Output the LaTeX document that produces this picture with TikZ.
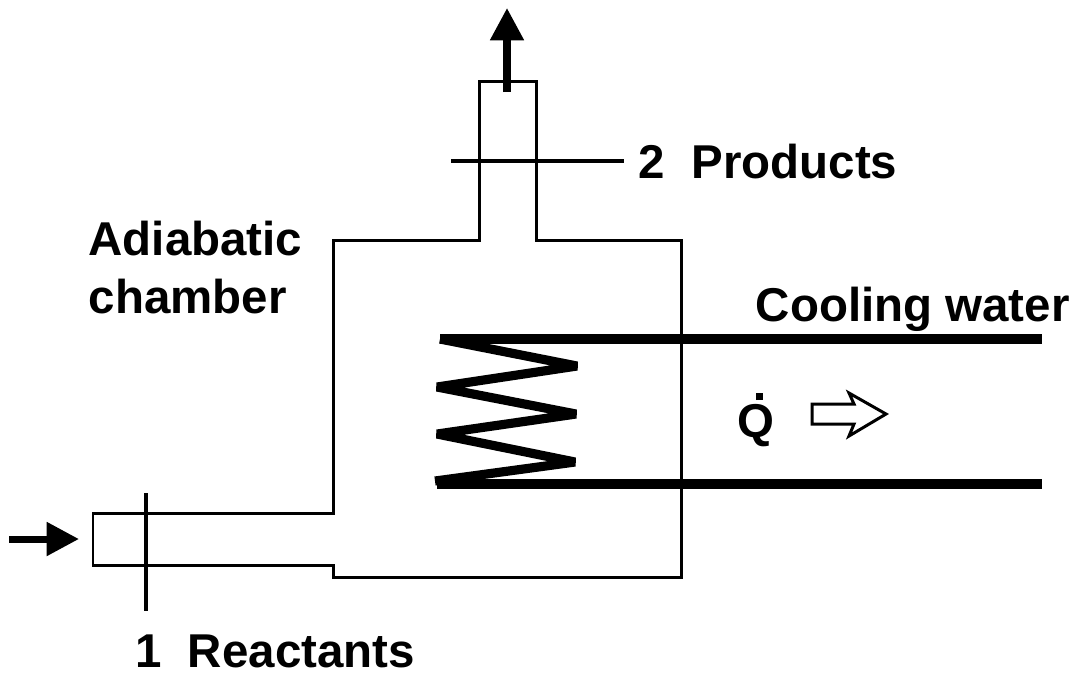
\documentclass[tikz,border=0pt]{standalone}
\usepackage{fontspec}
\setmainfont{Liberation Sans}
\usetikzlibrary{arrows.meta}

\tikzset{
	wall/.style = {line width = 0.85pt},
	section/.style = {line width = 1.1pt},
	coil/.style = {line width = 2.6pt},
	flow/.style = {line width = 2pt, -{Triangle[length = 9.2pt, width = 9.2pt]}},
	label/.style = {anchor = base west, inner sep = 0pt, font = \fontsize{13.5}{16}\selectfont\bfseries},
}

\begin{document}
\begin{tikzpicture}[x = 0.01cm, y = -0.01cm]
	\def\ytop{339};
	\def\ybot{484};
	\def\xend{1042};

	\useasboundingbox (0,0) rectangle (1074,672);

	% chamber and its two pipes
	\draw [wall] (93,513) -- (333,513) -- (333,240) -- (479,240) -- (479,81) -- (536,81)
		-- (536,240) -- (681,240) -- (681,577) -- (333,577) -- (333,565) -- (93,565) -- cycle;

	% sections
	\draw [section] (451,161) -- (624,161);
	\draw [section] (146,493) -- (146,611);

	% cooling coil
	\draw [coil, line join = bevel] (440,\ytop) -- (577,366) -- (437,387) -- (576,414)
		-- (437,434) -- (575,462) -- (435,481);
	\draw [coil] (440,\ytop) -- (\xend,\ytop);
	\draw [coil] (437,\ybot) -- (\xend,\ybot);

	% flow arrows
	\coordinate (in) at (9,539);
	\coordinate (intip) at (79,539);
	\coordinate (out) at (507,92);
	\coordinate (outtip) at (507,8);
	\draw [flow] (in) -- (intip);
	\draw [flow] (out) -- (outtip);

	% heat arrow
	\draw [wall] (812,404) -- (854,404) -- (849,393) -- (886,414) -- (849,436) -- (854,424)
		-- (812,424) -- cycle;

	\node [label] (products) at (638,178) {2\ \ Products};
	\node [label] (adiabatic) at (88,255) {Adiabatic};
	\node [label] (chamber) at (88,313) {chamber};
	\node [label] (cooling) at (755,321) {Cooling water};
	\node [label] (heat) at (737,437) {\rlap{\hspace{5.1pt}\raisebox{10.5pt}{\rule{2pt}{2pt}}}Q};
	\node [label] (reactants) at (134.5,667) {1\ \ Reactants};
\end{tikzpicture}
\end{document}
